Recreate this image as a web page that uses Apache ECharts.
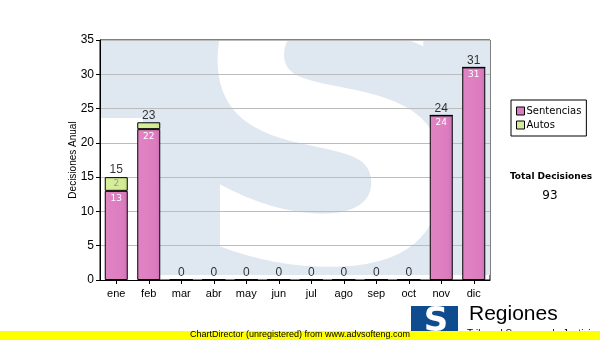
<!DOCTYPE html>
<html><head><meta charset="utf-8">
<script src="https://cdn.jsdelivr.net/npm/echarts@6/dist/echarts.min.js"></script>
<style>html,body{margin:0;padding:0;background:#fff}#c{width:600px;height:340px}</style>
</head><body><div id="c"></div>
<script>
var categories = ['ene','feb','mar','abr','may','jun','jul','ago','sep','oct','nov','dic'];
var sentencias = [13,22,0,0,0,0,0,0,0,0,24,31];
var autos = [2,1,0,0,0,0,0,0,0,0,0,0];
var totals = sentencias.map(function(v,i){return v+autos[i];});
var yTicks = {min:0, max:35, interval:5};
var totalDecisiones = 93;

var chart = echarts.init(document.getElementById('c'));
var pink = new echarts.graphic.LinearGradient(0,0,1,0,[{offset:0,color:'#e084c3'},{offset:0.8,color:'#dc7cc0'},{offset:1,color:'#cf70b4'}]);
var green = new echarts.graphic.LinearGradient(0,0,1,0,[{offset:0,color:'#d8ef9c'},{offset:0.8,color:'#d2eb94'},{offset:1,color:'#c6df88'}]);
chart.setOption({
  animation:false,
  textStyle:{fontFamily:'Liberation Sans, Arial, sans-serif'},
  grid:{left:100,right:110,top:40,bottom:60,show:true,borderColor:'#000',borderWidth:1,backgroundColor:'transparent'},
  legend:{
    orient:'vertical', left:511, top:100, padding:[6,5,6,5],
    borderColor:'#000', borderWidth:1, backgroundColor:'#fff',
    itemWidth:8, itemHeight:8, itemGap:4, icon:'rect',
    textStyle:{fontFamily:'DejaVu Sans, Tahoma, sans-serif', fontSize:10, color:'#000', padding:[0,0,0,-3]},
    data:[{name:'Sentencias',itemStyle:{color:'#dc7cc0',borderColor:'#000',borderWidth:1}},
          {name:'Autos',itemStyle:{color:'#d4ec98',borderColor:'#000',borderWidth:1}}]
  },
  xAxis:{type:'category',data:categories,
    axisLine:{lineStyle:{color:'#000',width:1}},
    axisTick:{show:true,alignWithLabel:true,length:4,lineStyle:{color:'#000'}},
    axisLabel:{color:'#000',fontSize:11,margin:8}},
  yAxis:{type:'value',min:yTicks.min,max:yTicks.max,interval:yTicks.interval,
    name:'Decisiones Anual',nameLocation:'middle',nameGap:22,nameMoveOverlap:false,
    nameTextStyle:{color:'#000',fontSize:10,fontFamily:'Liberation Sans, sans-serif'},
    axisLine:{show:true,lineStyle:{color:'#000'}},
    axisTick:{show:true,length:4,lineStyle:{color:'#000'}},
    axisLabel:{color:'#000',fontSize:12,margin:6},
    splitLine:{lineStyle:{color:'#bcbcbc',width:1}}},
  series:[
    {name:'Sentencias',type:'bar',stack:'t',data:sentencias,barWidth:23,
     itemStyle:{color:pink,borderColor:'#000',borderWidth:1},
     label:{show:true,position:'insideTop',distance:3,color:'#fff',fontSize:9,fontFamily:'DejaVu Sans, sans-serif',
       formatter:function(p){return p.value>0?p.value:'';}}},
    {name:'Autos',type:'bar',stack:'t',data:autos,barWidth:23,
     itemStyle:{color:green,borderColor:'#000',borderWidth:1},
     label:{show:true,position:'inside',color:'#9a9a9a',fontSize:9,fontFamily:'DejaVu Sans, sans-serif',
       formatter:function(p){return p.value>=2?p.value:'';}}},
    {name:'total',type:'scatter',data:totals,symbolSize:0,z:5,
     label:{show:true,position:'top',distance:1,color:'#000',fontSize:12,formatter:function(p){return p.value;}}}
  ],
  graphic:[
    {type:'group',z:-10,silent:true,
     clipPath:{type:'rect',shape:{x:101,y:41,width:389,height:239}},
     children:[
      {type:'rect',shape:{x:100,y:40,width:390,height:235},style:{fill:'#dfe8f1'}},
      {type:'rect',shape:{x:100,y:118,width:43,height:170},style:{fill:'#fff'}},
      {type:'text',x:330,y:160,style:{text:'S',font:'bold 390px "DejaVu Sans"',fill:'#fff',textAlign:'center',textVerticalAlign:'middle'}}
     ]},
    {type:'text',x:551,y:172,style:{text:'Total Decisiones',font:'bold 9px "DejaVu Sans"',fill:'#000',textAlign:'center'}},
    {type:'text',x:550,y:190,style:{text:String(totalDecisiones),font:'12px "DejaVu Sans"',fill:'#000',textAlign:'center'}},
    {type:'group',z:5,children:[
      {type:'rect',shape:{x:411,y:306,width:47,height:30},style:{fill:'#0f4c8f'}},
      {type:'text',x:436,y:322,style:{text:'S',font:'bold 34px "DejaVu Sans"',fill:'#fff',textAlign:'center',textVerticalAlign:'middle'}},
      {type:'text',x:469,y:304,style:{text:'Regiones',font:'21px "Liberation Sans"',fill:'#000'}},
      {type:'text',x:467,y:329,style:{text:'Tribunal Supremo de Justicia',font:'10px "Liberation Sans"',fill:'#000'}},
      {type:'rect',shape:{x:0,y:331,width:600,height:9},style:{fill:'#ffff00'}},
      {type:'text',x:190,y:330,style:{text:'ChartDirector (unregistered) from www.advsofteng.com',font:'9px "Liberation Sans"',fill:'#000'}}
    ]}
  ]
});
</script></body></html>
